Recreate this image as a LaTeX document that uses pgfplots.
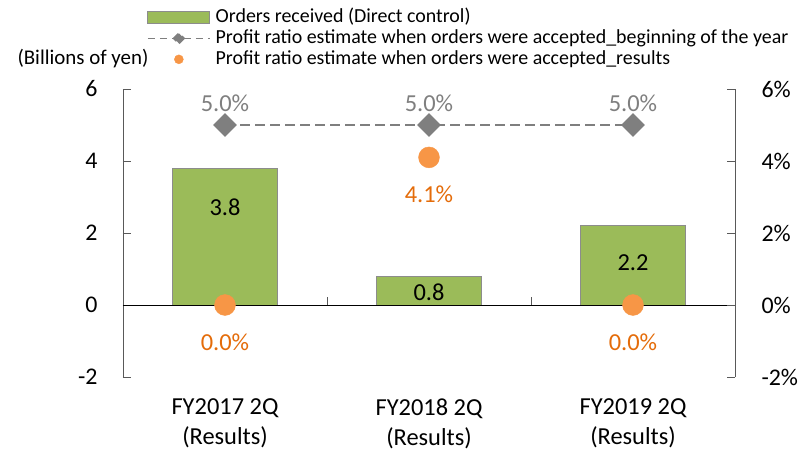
\documentclass[border=0pt]{standalone}
\usepackage{pgfplots}
\pgfplotsset{compat=1.18}
\usepackage{pgfplotstable}
\usepackage{fontspec}
\setmainfont{Carlito}
\definecolor{barg}{HTML}{9BBB59}
\definecolor{bardraw}{HTML}{8C8C8C}
\definecolor{lgray}{HTML}{7F7F7F}
\definecolor{org}{HTML}{F79646}
\definecolor{orgtxt}{HTML}{E46C0A}
\definecolor{axgray}{HTML}{595959}

\pgfplotstableread{
x val laby lab
0 3.8 2.72 3.8
1 0.8 0.36 0.8
2 2.2 1.17 2.2
}\bars
\pgfplotstableread{
x pct
0 5.0
1 5.0
2 5.0
}\begyear
\pgfplotstableread{
x pct
0 0.0
1 4.1
2 0.0
}\results

\begin{document}
\begin{tikzpicture}
\path[use as bounding box] (-123bp,-79bp) rectangle (683bp,377bp);
\pgfplotsset{
  common/.style={
    scale only axis, width=612bp, height=288bp,
    at={(0,0)}, anchor=south west,
    xmin=-0.5, xmax=2.5, ymin=-2, ymax=6,
    ytick={-2,0,2,4,6},
    tick align=inside, major tick length=8bp,
    /pgf/number format/assume math mode=true,
    ticklabel style={font=\fontsize{24}{29}\selectfont, text=black},
    y axis line style={-, draw=axgray, line width=0.8bp},
    ytick style={draw=axgray, line width=0.8bp},
  }
}
\begin{axis}[common,
  axis y line*=left, axis x line*=bottom,
  x axis line style={draw=none}, xtick style={draw=none},
  xtick={0,1,2},
  xticklabels={{FY2017 2Q\\(Results)},{FY2018 2Q\\(Results)},{FY2019 2Q\\(Results)}},
  xticklabel style={align=center, yshift=-18bp, font=\fontsize{24.5}{30}\selectfont},
  yticklabel style={xshift=-22bp},
]
\addplot[ybar, bar width=0.51, fill=barg, draw=bardraw, line width=1bp] table[x=x, y=val] {\bars};
\addplot[draw=none, mark=none, nodes near coords, point meta=explicit symbolic,
  nodes near coords style={anchor=center, font=\fontsize{24.5}{29}\selectfont, text=black}]
  table[x=x, y=laby, meta=lab] {\bars};
\draw[black, line width=0.9bp] (axis cs:-0.5,0) -- (axis cs:2.5,0);
\draw[axgray, line width=0.8bp] (axis cs:0.5,0) -- (axis cs:0.5,0.22);
\draw[axgray, line width=0.8bp] (axis cs:1.5,0) -- (axis cs:1.5,0.22);
\end{axis}

\begin{axis}[common,
  axis y line*=right, axis x line=none,
  yticklabel={\pgfmathprintnumber{\tick}\%},
  yticklabel style={xshift=23bp},
  legend style={at={(0.039,1.286)}, anchor=north west, draw=none, fill=none,
    inner sep=0pt, font=\fontsize{20}{24}\selectfont,
    nodes={text height=14.5bp, text depth=5bp, inner ysep=0.75bp, inner xsep=5bp}},
  legend cell align=left,
]
\addlegendimage{legend image code/.code={\draw[fill=barg, draw=bardraw, line width=0.8bp] (0bp,-6bp) rectangle (62bp,6bp);}}
\addlegendentry{Orders received (Direct control)}
\addplot[lgray, line width=2bp, dash pattern=on 10bp off 5bp,
  mark=square*, mark size=7.5, mark options={solid, rotate=45, fill=lgray, draw=lgray},
  nodes near coords={\pgfmathprintnumber[fixed, fixed zerofill, precision=1]{\pgfplotspointmeta}\%},
  nodes near coords style={anchor=center, yshift=22bp, font=\fontsize{24.5}{29}\selectfont, text=lgray},
  legend image code/.code={\draw[lgray, line width=1.6bp, dash pattern=on 7bp off 5bp] (0bp,0bp) -- (62bp,0bp);
    \fill[lgray] (31bp,-5bp) -- (36bp,0bp) -- (31bp,5bp) -- (26bp,0bp) -- cycle;}]
  table[x=x, y=pct] {\begyear};
\addlegendentry{Profit ratio estimate when orders were accepted\_beginning of the year}
\addplot[only marks, mark=*, mark size=10.5, color=org, mark options={fill=org, draw=org},
  nodes near coords={\pgfmathprintnumber[fixed, fixed zerofill, precision=1]{\pgfplotspointmeta}\%},
  nodes near coords style={anchor=center, yshift=-37bp, font=\fontsize{24.5}{29}\selectfont, text=orgtxt},
  legend image code/.code={\fill[org] (31bp,0bp) circle (4.5bp);}]
  table[x=x, y=pct] {\results};
\addlegendentry{Profit ratio estimate when orders were accepted\_results}
\end{axis}
\node[anchor=west, font=\fontsize{21}{25}\selectfont] at (-109bp,318bp) {(Billions of yen)};
\end{tikzpicture}
\end{document}
